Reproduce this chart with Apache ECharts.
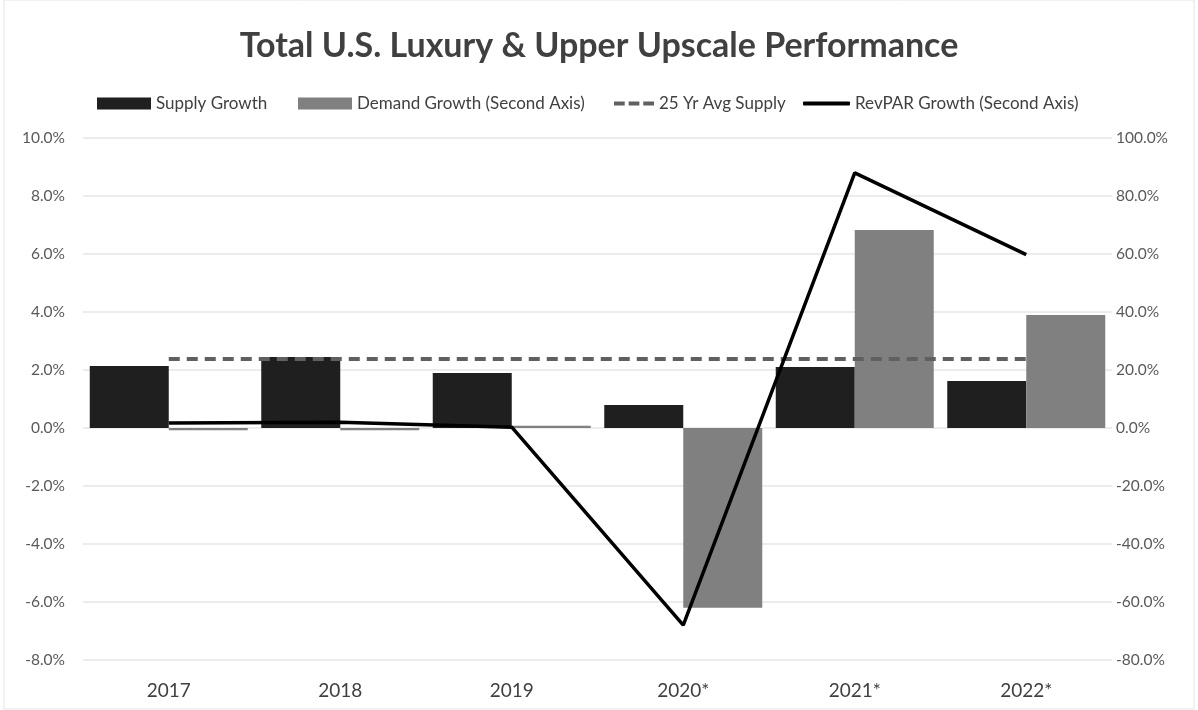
<!DOCTYPE html>
<html>
<head>
<meta charset="utf-8">
<script src="https://cdn.jsdelivr.net/npm/echarts@6/dist/echarts.min.js"></script>
<style>
  html, body { margin: 0; padding: 0; background: #fff; }
  #main { width: 1198px; height: 710px; }
</style>
</head>
<body>
<div id="main"></div>
<script>
// chart data
var years = ['2017', '2018', '2019', '2020*', '2021*', '2022*'];
var supplyGrowth = [2.14, 2.45, 1.9, 0.79, 2.1, 1.62];      // left axis, %
var demandGrowth = [-0.8, -0.8, 0.8, -62.0, 68.3, 39.0];     // right axis, %
var avgSupply = [2.38, 2.38, 2.38, 2.38, 2.38, 2.38];        // left axis, %
var revparGrowth = [1.7, 2.0, 0.3, -68.0, 88.0, 59.8];       // right axis, %

var chart = echarts.init(document.getElementById('main'));
var font = 'Lato, "Open Sans", sans-serif';

function pct(v) { return v.toFixed(1) + '%'; }

var legendText = { color: '#404040', fontSize: 17, fontFamily: font };
var dashIcon = 'path://M0,0h11v4h-11z M15,0h11v4h-11z M30,0h11v4h-11z';

var option = {
  backgroundColor: '#fff',
  animation: false,
  title: {
    text: 'Total U.S. Luxury & Upper Upscale Performance',
    left: 'center',
    top: 24,
    textStyle: { fontSize: 34, fontWeight: 'bold', color: '#404040', fontFamily: font }
  },
  legend: [
    { data: ['Supply Growth'], left: 97, top: 95, padding: 0, itemWidth: 54, itemHeight: 12, icon: 'rect', textStyle: legendText },
    { data: ['Demand Growth (Second Axis)'], left: 298, top: 95, padding: 0, itemWidth: 54, itemHeight: 12, icon: 'rect', textStyle: legendText },
    { data: [{ name: '25 Yr Avg Supply', icon: dashIcon }], left: 614, top: 95, padding: 0, itemWidth: 40, itemHeight: 5, itemGap: 8, textStyle: legendText },
    { data: [{ name: 'RevPAR Growth (Second Axis)', icon: 'roundRect' }], left: 803, top: 95, padding: 0, itemWidth: 47, itemHeight: 4, textStyle: legendText }
  ],
  grid: { left: 83, right: 86, top: 138, bottom: 50 },
  xAxis: {
    type: 'category',
    data: years,
    axisLine: { show: false },
    axisTick: { show: false },
    axisLabel: { color: '#404040', fontSize: 19, fontFamily: font, margin: 21 }
  },
  yAxis: [
    {
      type: 'value', min: -8, max: 10, interval: 2,
      axisLine: { show: false }, axisTick: { show: false },
      axisLabel: { formatter: pct, color: '#595959', fontSize: 15.5, fontFamily: font, margin: 18 },
      splitLine: { lineStyle: { color: '#e6e6e6', width: 1.5 } }
    },
    {
      type: 'value', min: -80, max: 100, interval: 20,
      axisLine: { show: false }, axisTick: { show: false },
      axisLabel: { formatter: pct, color: '#595959', fontSize: 15.5, fontFamily: font, margin: 4 },
      splitLine: { show: false }
    }
  ],
  series: [
    {
      name: 'Supply Growth', type: 'bar', yAxisIndex: 0,
      data: supplyGrowth, barWidth: 79, barGap: '0%',
      itemStyle: { color: '#1f1f1f' }
    },
    {
      name: 'Demand Growth (Second Axis)', type: 'bar', yAxisIndex: 1,
      data: demandGrowth, barWidth: 79, barGap: '0%',
      itemStyle: { color: '#808080' }
    },
    {
      name: '25 Yr Avg Supply', type: 'line', yAxisIndex: 0,
      data: avgSupply, symbol: 'none',
      lineStyle: { color: '#606060', width: 4, type: [11, 7] },
      itemStyle: { color: '#606060' }, z: 3
    },
    {
      name: 'RevPAR Growth (Second Axis)', type: 'line', yAxisIndex: 1,
      data: revparGrowth, symbol: 'none',
      lineStyle: { color: '#000', width: 3.5 },
      itemStyle: { color: '#000' }, z: 4
    }
  ],
  graphic: [
    { type: 'rect', shape: { x: 4, y: 0, width: 1190, height: 709 },
      style: { fill: 'none', stroke: '#e4e4e4', lineWidth: 1 }, silent: true }
  ]
};

chart.setOption(option);
</script>
</body>
</html>
